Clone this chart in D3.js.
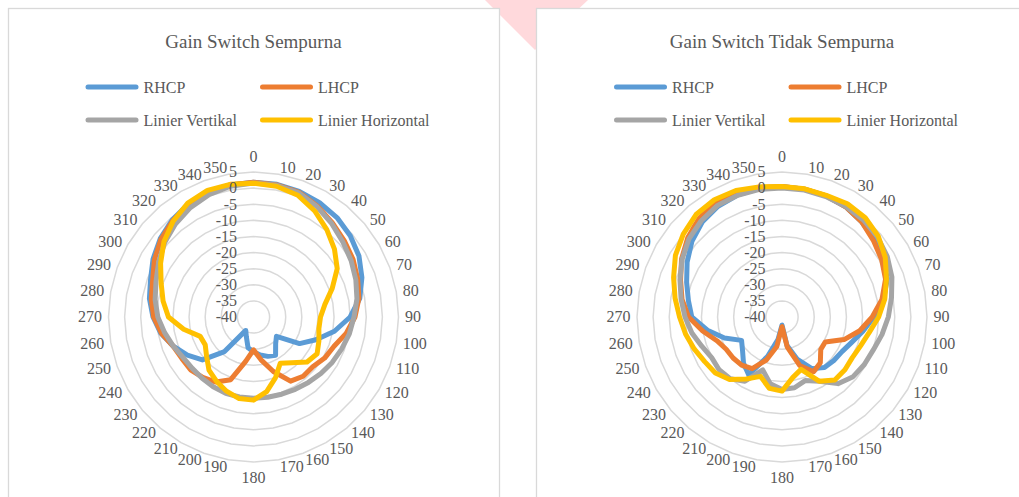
<!DOCTYPE html>
<html><head><meta charset="utf-8">
<script src="https://cdn.jsdelivr.net/npm/d3@7"></script>
<style>
body{margin:0;background:#fff}
svg{display:block}
text{font-family:"Liberation Serif","Times New Roman",serif;fill:#595959}
</style>
</head><body>
<svg id="c" width="1019" height="497"></svg>
<script>
const categories = [0,10,20,30,40,50,60,70,80,90,100,110,120,130,140,150,160,170,180,190,200,210,220,230,240,250,260,270,280,290,300,310,320,330,340,350];
const radialTicks = [5,0,-5,-10,-15,-20,-25,-30,-35,-40];
const seriesNames = ["RHCP","LHCP","Linier Vertikal","Linier Horizontal"];
const seriesColors = ["#5B9BD5","#ED7D31","#A5A5A5","#FFC000"];
const titles = ["Gain Switch Sempurna","Gain Switch Tidak Sempurna"];

// Gain Switch Sempurna
const sempurnaRHCP = [1.8,1.8,1.5,1.0,0.3,-0.8,-2.2,-4.2,-6.5,-10,-14.5,-19.4,-23.5,-30.7,-29.3,-26.3,-27,-28,-29.2,-30.3,-33.5,-35.2,-26,-19.3,-16.3,-13.5,-10.8,-8.8,-7.2,-6,-4,-2.2,-0.7,0.5,1.2,1.6];
const sempurnaLHCP = [1.8,1.6,1.2,-0.3,-1.9,-3.2,-4.3,-5.6,-6.8,-8.5,-10.8,-13.4,-14.5,-16,-16,-17,-22,-26.5,-29.8,-26,-19.3,-16.7,-15.5,-14.5,-14.3,-13.5,-11,-9,-7.8,-6.7,-4.5,-2.5,-1,0.3,1.2,1.6];
const sempurnaVertikal = [1.6,1.5,1.0,-0.5,-2.2,-3.8,-5.0,-6.2,-7.4,-8.8,-9.8,-10.9,-11.8,-12.7,-13.5,-14.1,-14.5,-14.7,-14.8,-14.8,-14.8,-15,-15.2,-15.2,-14.8,-13.5,-12,-10.3,-9,-7.8,-6,-4,-2.3,-0.8,0.4,1.2];
const sempurnaHorizontal = [1.5,1.2,0.2,-2,-4.6,-7.2,-10,-14,-17.5,-19.2,-19.4,-18.4,-17.2,-18.3,-21.5,-23.4,-20,-16.5,-14.2,-14.3,-15.5,-17,-18.5,-21,-22.7,-22.4,-18,-13.6,-11.5,-9.5,-6.7,-3.7,-1.2,0.8,1.8,1.8];

// Gain Switch Tidak Sempurna
const tidakRHCP = [0.5,0.3,0,-0.5,-1.5,-2.5,-3.8,-5.2,-8,-11.5,-14.5,-17,-18.5,-19,-19.5,-21.5,-26,-31,-37.5,-33,-27,-19.3,-21.4,-24,-25.5,-21,-16.5,-12,-10.5,-8.5,-6,-3.5,-1.5,-0.3,0.3,0.5];
const tidakLHCP = [0.5,0.3,0,-0.5,-1.5,-3,-4.3,-5.8,-8.5,-12,-15.5,-19.5,-24.5,-24.3,-21.5,-20.4,-24,-30.5,-37,-30.7,-25.8,-21.5,-20.5,-20.2,-20,-18.5,-15,-11,-8.5,-6.5,-4,-1.8,0,1,1,0.8];
const tidakVertikal = [0,0,-0.2,-0.4,-0.7,-1.3,-2.3,-3.7,-5.5,-7,-8.5,-9.9,-10.5,-11.2,-13,-17,-19,-17.7,-17.5,-19,-22.5,-17,-15,-14.5,-14.8,-13.5,-11.6,-9.9,-8.2,-6.3,-4.2,-2.3,-1,0,0.2,0.2];
const tidakHorizontal = [0.5,0.4,0.2,0.6,0.2,-1,-3,-5.5,-7.6,-10,-12.5,-14,-14.8,-14.5,-14.5,-17,-22.7,-20.9,-17,-17.5,-20.4,-17.8,-14.7,-13,-12.3,-11,-9.6,-8.2,-6.3,-4.2,-1.8,0,1.5,2,1.8,1];

const chartSeries = [
  [sempurnaRHCP, sempurnaLHCP, sempurnaVertikal, sempurnaHorizontal],
  [tidakRHCP, tidakLHCP, tidakVertikal, tidakHorizontal]
];

const svg = d3.select("#c");
svg.append("rect").attr("width",1019).attr("height",497).attr("fill","#fff");
// watermark shape behind the panels
svg.append("polygon").attr("points","485,0 588,0 535,50").attr("fill","#ffd9dc");

// panels
svg.append("rect").attr("x",8.5).attr("y",8.5).attr("width",491).attr("height",520)
  .attr("fill","#fff").attr("stroke","#d9d9d9").attr("stroke-width",1.3);
svg.append("rect").attr("x",536.5).attr("y",8.5).attr("width",520).attr("height",520)
  .attr("fill","#fff").attr("stroke","#d9d9d9").attr("stroke-width",1.3);

const R = 145;
const rScale = d3.scaleLinear().domain([-40,5]).range([0,R]).clamp(true);
const aScale = d3.scaleLinear().domain([0,360]).range([0,2*Math.PI]);

function drawChart(cx, cy, title, seriesData){
  const g = svg.append("g");
  g.append("text").attr("x",cx).attr("y",48).attr("text-anchor","middle")
    .style("font-size","19px").text(title);

  // legend
  const legX = [cx-168, cx+6.5];
  const legY = [87, 120];
  seriesNames.forEach((n,i)=>{
    const lx = legX[i%2], ly = legY[Math.floor(i/2)];
    g.append("line").attr("x1",lx+2.5).attr("x2",lx+50.5).attr("y1",ly).attr("y2",ly)
      .attr("stroke",seriesColors[i]).attr("stroke-width",5).attr("stroke-linecap","round");
    g.append("text").attr("x",lx+58).attr("y",ly+6).style("font-size","16px").text(n);
  });

  const pg = g.append("g").attr("transform",`translate(${cx},${cy})`);
  const ringLine = d3.lineRadial().angle(d=>aScale(d)).curve(d3.curveLinearClosed);
  radialTicks.slice(0,-1).forEach(t=>{
    pg.append("path").attr("d", ringLine.radius(()=>rScale(t))(categories))
      .attr("fill","none").attr("stroke","#d9d9d9").attr("stroke-width",1.5);
  });

  // series
  const line = d3.lineRadial().angle(d=>aScale(d.a)).radius(d=>rScale(d.v)).curve(d3.curveLinearClosed);
  seriesData.forEach((vals,i)=>{
    const pts = categories.map((a,j)=>({a, v: vals[j]}));
    pg.append("path").attr("d", line(pts)).attr("fill","none")
      .attr("stroke",seriesColors[i]).attr("stroke-width",5)
      .attr("stroke-linejoin","round").attr("stroke-linecap","round");
  });

  // radial tick labels
  radialTicks.forEach(t=>{
    pg.append("text").attr("x",-16.5).attr("y",-rScale(t)).attr("dy","0.33em")
      .attr("text-anchor","end").style("font-size","16px").text(t);
  });

  // angle labels
  const L = R + 6.6;
  categories.forEach(a=>{
    const th = aScale(a);
    const s = Math.sin(th), c = Math.cos(th);
    const px = L*s, py = -L*c;
    let anchor, by;
    if (Math.abs(s) < 0.01) {
      anchor = "middle";
      by = c > 0 ? py - 3.7 : py + 14.3;
    } else {
      anchor = s > 0 ? "start" : "end";
      by = py + 5.3;
    }
    pg.append("text").attr("x", px).attr("y", by)
      .attr("text-anchor",anchor).style("font-size","16px").text(a);
  });
}

drawChart(253.5, 317, titles[0], chartSeries[0]);
drawChart(782, 317, titles[1], chartSeries[1]);
</script>
</body></html>
